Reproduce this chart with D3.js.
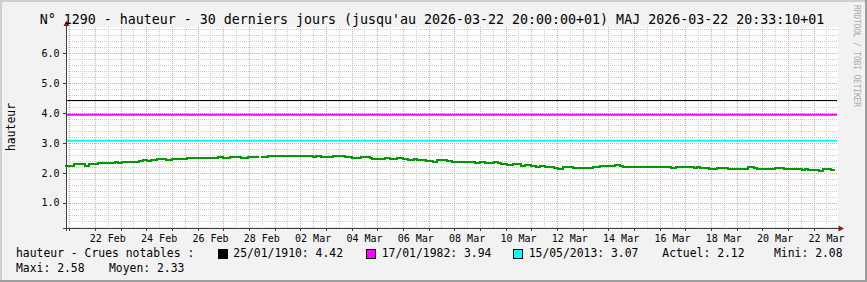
<!DOCTYPE html>
<html><head><meta charset="utf-8">
<script src="https://cdn.jsdelivr.net/npm/d3@7"></script>
<style>
html,body{margin:0;padding:0;background:#f2f2f2;}
svg{display:block;}
text{font-family:"DejaVu Sans Mono",monospace;fill:#000;}
</style>
</head><body>
<svg id="chart" width="867" height="282"></svg>
<script>
// ---------- data ----------
const titleText = "N° 1290 - hauteur - 30 derniers jours (jusqu'au 2026-03-22 20:00:00+01) MAJ 2026-03-22 20:33:10+01";
const yAxisTitle = "hauteur";
const startTime = Date.UTC(2026, 1, 20, 20, 0, 0);   // wall-clock time, +01
const endTime   = Date.UTC(2026, 2, 22, 20, 0, 0);
// step changes: hours since start -> water height (m)
const stepHours = [
  0,8,19,22,31,47,50,53,56,69,
  73,77,80,86,94,100,114,143,148,154,
  165,171,181,183,190,232,235,239,251,262,
  268,277,285,287,299,304,310,316,321,326,
  329,338,344,348,357,362,379,383,388,393,
  401,405,408,413,419,426,430,436,440,444,
  449,457,461,466,475,494,500,514,519,522,
  567,571,588,591,594,602,610,620,639,644,
  647,664,672,689,692,695,705,709,716,720];
const stepValues = [
  2.24,2.29,2.24,2.29,2.32,2.35,2.32,2.35,2.37,2.41,
  2.44,2.41,2.44,2.47,2.44,2.47,2.51,2.54,2.51,2.54,
  2.51,2.54,null,2.54,2.58,2.54,2.58,2.54,2.58,2.54,
  2.51,2.54,2.51,2.47,2.51,2.47,2.51,2.47,2.44,2.47,
  2.44,2.41,2.37,2.44,2.41,2.37,2.35,2.32,2.35,2.32,
  2.35,2.32,2.29,2.25,2.29,2.22,2.25,2.22,2.18,2.22,
  2.18,2.16,2.13,2.18,2.16,2.18,2.22,2.25,2.22,2.21,
  2.16,2.21,2.16,2.21,2.16,2.13,2.16,2.13,2.18,2.16,
  2.13,2.16,2.13,2.10,2.13,2.10,2.07,2.13,2.10,2.10];
const refDates  = ["25/01/1910", "17/01/1982", "15/05/2013"];
const refValues = [4.42, 3.94, 3.07];
const refColors = ["#000000", "#ff00ff", "#00ffff"];
const yTickValues = [1, 2, 3, 4, 5, 6];
const legendTitle = "hauteur - Crues notables :";
const statLabels = ["Actuel", "Mini", "Maxi", "Moyen"];
const statValues = [2.12, 2.08, 2.58, 2.33];
const watermark = "RRDTOOL / TOBI OETIKER";

// ---------- layout ----------
const W = 867, H = 282;
const plotL = 66, plotR = 837, plotT = 27, plotB = 228;
const svg = d3.select("#chart");

const x = d3.scaleUtc().domain([new Date(startTime), new Date(endTime)]).range([65, 835]);
const y = d3.scaleLinear().domain([0, 7]).range([232.6, 232.6 - 7 * 29.88]);
const px = v => Math.round(v) + 0.5;

// background + frame
svg.append("rect").attr("width", W).attr("height", H).attr("fill", "#f2f2f2");
svg.append("rect").attr("x",0).attr("y",0).attr("width",W).attr("height",2).attr("fill","#cfcfcf");
svg.append("rect").attr("x",0).attr("y",0).attr("width",2).attr("height",H).attr("fill","#cfcfcf");
svg.append("rect").attr("x",0).attr("y",H-2).attr("width",W).attr("height",2).attr("fill","#9e9e9e");
svg.append("rect").attr("x",W-2).attr("y",0).attr("width",2).attr("height",H).attr("fill","#9e9e9e");

// canvas
svg.append("rect").attr("x", plotL).attr("y", plotT).attr("width", plotR - plotL + 1).attr("height", plotB - plotT)
  .attr("fill", "#ffffff");

// grid
const grid = svg.append("g").attr("shape-rendering", "crispEdges");
const hGrid = d3.range(1, 35).map(k => k * 0.2);
hGrid.forEach((v, i) => {
  const major = (i + 1) % 5 === 0;
  grid.append("line").attr("x1", plotL).attr("x2", plotR).attr("y1", px(y(v))).attr("y2", px(y(v)))
    .attr("stroke", major ? "#f2a0a0" : "#cfcfcf").attr("stroke-dasharray", "1,1");
});
const vGrid = d3.utcHour.every(12).range(new Date(startTime), new Date(endTime));
vGrid.forEach(t => {
  const major = t.getUTCHours() === 0;
  grid.append("line").attr("x1", px(x(t))).attr("x2", px(x(t))).attr("y1", plotT).attr("y2", plotB)
    .attr("stroke", major ? "#f2a0a0" : "#cfcfcf").attr("stroke-dasharray", "1,1");
});

// reference lines
refValues.forEach((v, i) => {
  svg.append("line").attr("x1", plotL).attr("x2", plotR).attr("y1", y(v)).attr("y2", y(v))
    .attr("stroke", refColors[i]).attr("stroke-width", i === 0 ? 1 : 2)
    .attr("shape-rendering", i === 0 ? "crispEdges" : "auto");
});

// step series
const pts = [];
for (let i = 0; i < stepHours.length - 1; i++) {
  const t0 = startTime + stepHours[i] * 3600e3, t1 = startTime + stepHours[i + 1] * 3600e3;
  if (stepValues[i] == null) { pts.push({ t: t0, v: null }); continue; }
  pts.push({ t: t0, v: stepValues[i] }, { t: t1, v: stepValues[i] });
}
const line = d3.line().defined(d => d.v != null).x(d => x(new Date(d.t))).y(d => y(d.v));
svg.append("path").attr("d", line(pts)).attr("fill", "none").attr("stroke", "#009a00")
  .attr("stroke-width", 2).attr("shape-rendering", "crispEdges");

// axes
const axisCol = "#404040";
const ax = svg.append("g").attr("shape-rendering", "crispEdges");
ax.append("line").attr("x1", 66.5).attr("x2", 66.5).attr("y1", 231).attr("y2", 24).attr("stroke", axisCol);
ax.append("line").attr("x1", 63).attr("x2", 840).attr("y1", 228.5).attr("y2", 228.5).attr("stroke", axisCol);
yTickValues.forEach(v => {
  ax.append("line").attr("x1", 63).attr("x2", 66).attr("y1", px(y(v))).attr("y2", px(y(v))).attr("stroke", axisCol);
});
d3.utcDay.range(new Date(startTime), new Date(endTime)).forEach(t => {
  ax.append("line").attr("x1", px(x(t))).attr("x2", px(x(t))).attr("y1", 229).attr("y2", 231).attr("stroke", axisCol);
});
svg.append("path").attr("d", "M66.5,20.5 L69.5,26 L63.5,26 Z").attr("fill", "#7f1f1f");
svg.append("path").attr("d", "M844,228.5 L838.5,225.5 L838.5,231.5 Z").attr("fill", "#7f1f1f");

// y labels
const fmtY = d3.format(".1f");
yTickValues.forEach(v => {
  svg.append("text").attr("x", 59.5).attr("y", y(v) + 3.7).attr("text-anchor", "end")
    .attr("font-size", 10).text(fmtY(v));
});
// x labels: every 2 days, centred on noon
const fmtX = d3.utcFormat("%d %b");
d3.utcDay.every(1).range(new Date(startTime), new Date(endTime))
  .filter(t => (t.getUTCDate() % 2 === 0))
  .forEach(t => {
    svg.append("text").attr("x", x(new Date(+t + 12 * 3600e3))).attr("y", 242)
      .attr("text-anchor", "middle").attr("font-size", 10).text(fmtX(t));
  });

// title
svg.append("text").attr("x", 432).attr("y", 23.5).attr("text-anchor", "middle")
  .attr("font-size", 13.3).text(titleText);
// y axis title
svg.append("text").attr("transform", "translate(15,127) rotate(-90)").attr("text-anchor", "middle")
  .attr("font-size", 11.4).text(yAxisTitle);
// watermark
svg.append("text").attr("transform", "translate(853.5,5) rotate(90)").attr("font-size", 8)
  .attr("textLength", 102).attr("lengthAdjust", "spacing")
  .style("fill", "#ababab").text(watermark);

// legend
const fs = 11.4, r1 = 257.3, r2 = 271.7;
svg.append("text").attr("x", 16).attr("y", r1).attr("font-size", fs).text(legendTitle);
const boxX = [218.5, 366.5, 513.5], txtX = [233.3, 381.7, 528.7];
refValues.forEach((v, i) => {
  svg.append("rect").attr("x", boxX[i]).attr("y", 249.5).attr("width", 9).attr("height", 9)
    .attr("fill", refColors[i]).attr("stroke", "#000").attr("stroke-width", 1)
    .attr("shape-rendering", "crispEdges");
  svg.append("text").attr("x", txtX[i]).attr("y", r1).attr("font-size", fs)
    .text(refDates[i] + ": " + v.toFixed(2));
});
const statPos = [[662.3, r1], [774, r1], [16, r2], [109, r2]];
statLabels.forEach((l, i) => {
  svg.append("text").attr("x", statPos[i][0]).attr("y", statPos[i][1]).attr("font-size", fs)
    .text(l + ": " + statValues[i].toFixed(2));
});
</script>
</body></html>
